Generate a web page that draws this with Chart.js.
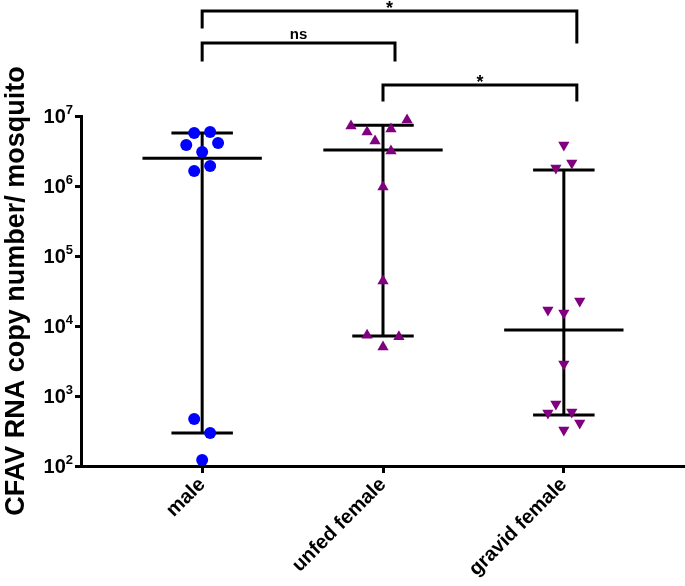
<!DOCTYPE html>
<html>
<head>
<meta charset="utf-8">
<script src="https://cdn.jsdelivr.net/npm/chart.js@4.4.1/dist/chart.umd.min.js"></script>
<style>
  html, body { margin: 0; padding: 0; background: #fff; }
  #wrap { width: 685px; height: 586px; }
</style>
</head>
<body>
<div id="wrap"><canvas id="chart"></canvas></div>
<script>
const FONT = "'Liberation Sans', Arial, sans-serif"

const groups = ['male', 'unfed female', 'gravid female']
const yTicks = [1e2, 1e3, 1e4, 1e5, 1e6, 1e7]

// x = column position with the scatter jitter (0 male, 1 unfed, 2 gravid)
const maleX = [-0.044, 0.044, -0.088, 0.088, 0, -0.044, 0.044, -0.044, 0.044, 0]
const maleY = [5.7e6, 5.9e6, 3.85e6, 4.1e6, 3.06e6, 1.64e6, 1.93e6, 469, 296, 122]

const unfedX = [0.823, 1.133, 0.912, 1.044, 0.956, 1.044, 1, 1, 0.912, 1.088, 1]
const unfedY = [7.2e6, 8.8e6, 5.9e6, 6.5e6, 4.4e6, 3.16e6, 9.7e5, 4.4e4, 7.4e3, 7.0e3, 5.0e3]

const gravidX = [2, 1.956, 2.044, 1.912, 2, 2.088, 2, 1.956, 1.912, 2.044, 2.088, 2]
const gravidY = [3.85e6, 1.81e6, 2.13e6, 1.69e4, 1.53e4, 2.27e4, 2.87e3, 769, 571, 590, 411, 327]

// median and interquartile range per group
const medians = [2.5e6, 3.27e6, 8.8e3]
const q1 = [296, 7.2e3, 535]
const q3 = [5.7e6, 7.4e6, 1.69e6]

// significance comparisons (group indexes)
const compFrom = [0, 0, 1]
const compTo = [2, 1, 2]
const compLabels = ['*', 'ns', '*']

const pts = (xs, ys) => xs.map((x, i) => ({x: x, y: ys[i]}))

// median bar + IQR whiskers, segments split by null gaps
function summaryLines() {
  const out = []
  groups.forEach((g, i) => {
    out.push({x: i - 0.33, y: medians[i]}, {x: i + 0.33, y: medians[i]}, {x: i, y: null})
    out.push({x: i - 0.17, y: q3[i]}, {x: i + 0.17, y: q3[i]}, {x: i, y: null})
    out.push({x: i - 0.17, y: q1[i]}, {x: i + 0.17, y: q1[i]}, {x: i, y: null})
    out.push({x: i, y: q1[i]}, {x: i, y: q3[i]}, {x: i, y: null})
  })
  return out
}

const yLabels = {
  id: 'yLabels',
  afterDraw(chart) {
    const ctx = chart.ctx, y = chart.scales.y
    ctx.save()
    ctx.fillStyle = '#000'
    ctx.textBaseline = 'middle'
    y.ticks.forEach(t => {
      const py = y.getPixelForValue(t.value)
      const exp = String(Math.round(Math.log10(t.value)))
      ctx.font = 'bold 13px ' + FONT
      ctx.textAlign = 'right'
      const supW = ctx.measureText(exp).width
      ctx.fillText(exp, 73, py - 6)
      ctx.font = 'bold 20px ' + FONT
      ctx.fillText('10', 73 - supW, py + 1)
    })
    ctx.restore()
  }
}

const brackets = {
  id: 'brackets',
  afterDraw(chart) {
    const ctx = chart.ctx, x = chart.scales.x
    // line height, left leg end, right leg end, right-end nudge
    const rows = [[11, 27, 42, 13], [43, 60, 60, 12], [85, 100, 100, 13]]
    ctx.save()
    ctx.strokeStyle = '#000'
    ctx.fillStyle = '#000'
    ctx.lineWidth = 3
    ctx.lineCap = 'square'
    compFrom.forEach((f, i) => {
      const r = rows[i]
      const x0 = x.getPixelForValue(f)
      const x1 = x.getPixelForValue(compTo[i]) + r[3]
      ctx.beginPath()
      ctx.moveTo(x0, r[1])
      ctx.lineTo(x0, r[0])
      ctx.lineTo(x1, r[0])
      ctx.lineTo(x1, r[2])
      ctx.stroke()
      ctx.textAlign = 'center'
      ctx.textBaseline = 'alphabetic'
      if (compLabels[i] === '*') {
        ctx.font = 'bold 18px ' + FONT
        ctx.fillText('*', (x0 + x1) / 2, r[0] + 3)
      } else {
        ctx.font = 'bold 15px ' + FONT
        ctx.fillText(compLabels[i], (x0 + x1) / 2, r[0] - 4)
      }
    })
    ctx.restore()
  }
}

const axisLines = {drawOnChartArea: false, color: '#000', lineWidth: 3, tickLength: 7}

new Chart(document.getElementById('chart'), {
  type: 'scatter',
  data: {
    datasets: [
      {data: pts(maleX, maleY), pointStyle: 'circle', pointRadius: 6, backgroundColor: '#0000ff', borderColor: '#0000ff', borderWidth: 0, order: 0, clip: false},
      {data: pts(unfedX, unfedY), pointStyle: 'triangle', pointRadius: 6.5, backgroundColor: '#800080', borderColor: '#800080', borderWidth: 0, order: 0, clip: false},
      {data: pts(gravidX, gravidY), pointStyle: 'triangle', rotation: 180, pointRadius: 6.5, backgroundColor: '#800080', borderColor: '#800080', borderWidth: 0, order: 0, clip: false},
      {data: summaryLines(), showLine: true, spanGaps: false, pointRadius: 0, borderColor: '#000', borderWidth: 3, order: 1, clip: false}
    ]
  },
  options: {
    responsive: true,
    maintainAspectRatio: false,
    animation: false,
    layout: {autoPadding: false, padding: {top: 116, right: 0, bottom: 0, left: 0}},
    plugins: {legend: {display: false}, tooltip: {enabled: false}},
    scales: {
      x: {
        type: 'linear', min: -0.67, max: 2.67,
        afterBuildTicks: s => { s.ticks = groups.map((g, i) => ({value: i})) },
        afterFit: s => { s.height = 120; s.paddingLeft = 0; s.paddingRight = 0 },
        grid: axisLines,
        border: {color: '#000', width: 3},
        ticks: {minRotation: 45, maxRotation: 45, padding: 0, color: '#000', font: {family: FONT, size: 20, weight: 'bold'}, callback: v => groups[v]}
      },
      y: {
        type: 'logarithmic', min: 1e2, max: 1e7,
        afterBuildTicks: s => { s.ticks = yTicks.map(v => ({value: v})) },
        afterFit: s => { s.width = 81 },
        grid: Object.assign({}, axisLines, {tickLength: 6}),
        border: {color: '#000', width: 3},
        ticks: {display: false},
        title: {display: true, text: 'CFAV RNA copy number/ mosquito', color: '#000', padding: 0, font: {family: FONT, size: 27, weight: 'bold'}}
      }
    }
  },
  plugins: [yLabels, brackets]
})
</script>
</body>
</html>
